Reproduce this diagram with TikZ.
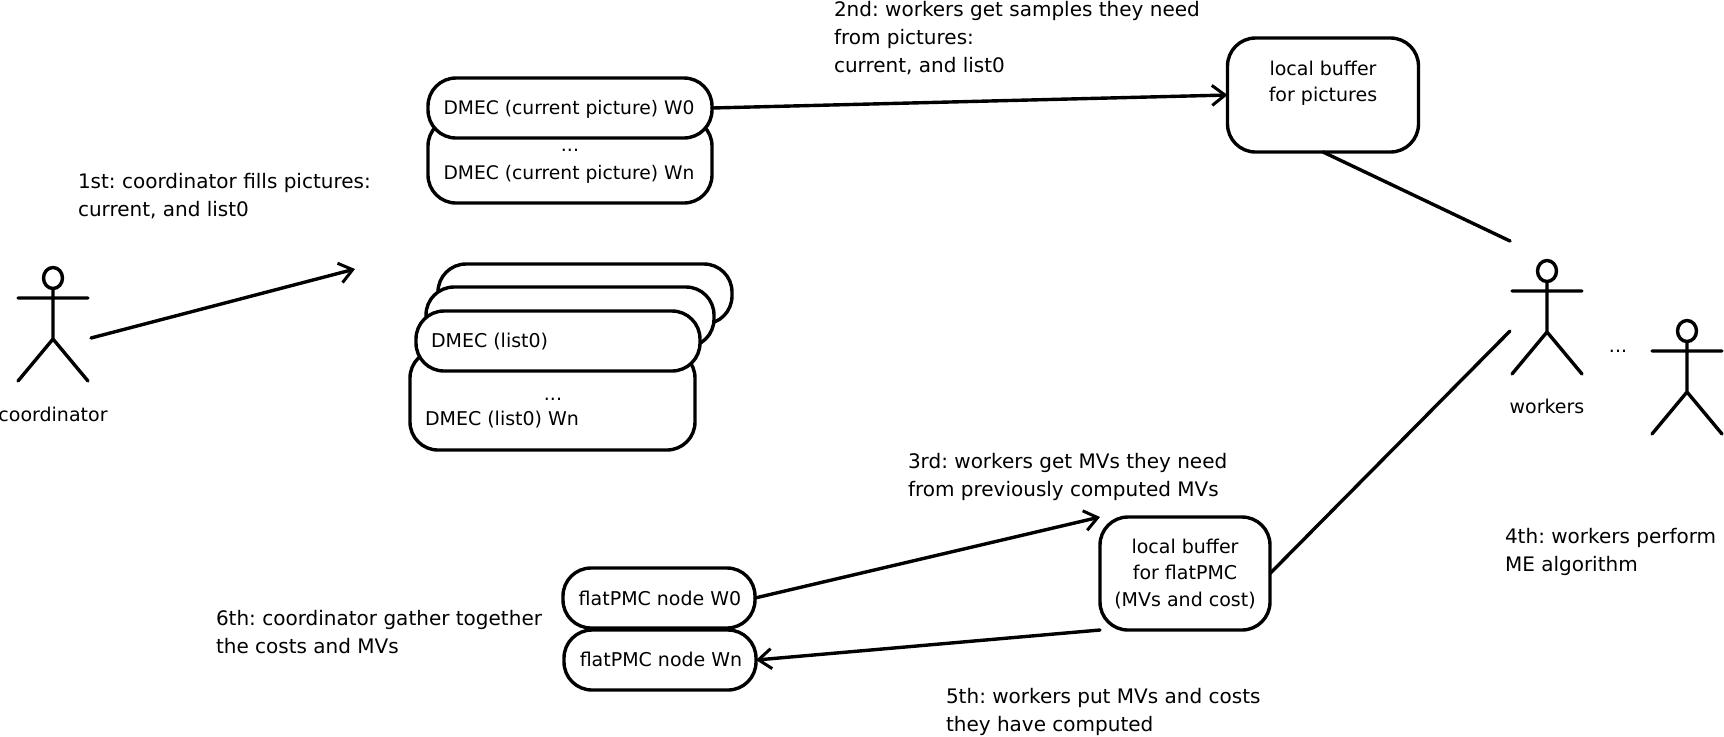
\documentclass[tikz,border=0pt]{standalone}
\usepackage{fontspec}
\setmainfont{DejaVu Sans}
\usetikzlibrary{arrows.meta}
\frenchspacing
\tikzset{
  x=0.5pt,y=-0.5pt,
  every node/.style={font=\fontsize{9.5}{13.2}\selectfont},
  line/.style={line width=1.7pt,line cap=round,line join=round},
  conn/.style={line,-{Straight Barb[length=6.5pt,width=10pt,line width=1.5pt]}},
  plainconn/.style={line},
  rbox/.style={draw,fill=white,line width=1.7pt,rounded corners=14pt,inner sep=0pt,outer sep=0pt,align=center},
  lbl/.style={inner sep=0pt,outer sep=0pt,align=left,anchor=west,font=\fontsize{10}{14}\selectfont},
  boxlbl/.style={inner sep=0pt,outer sep=0pt,align=left,anchor=west},
  ctr/.style={inner sep=0pt,outer sep=0pt,align=center},
  narrow/.style={inner sep=0pt,outer sep=0pt,align=center,font=\fontsize{9.35}{13.2}\selectfont},
  actor/.pic={
    \draw[line width=1.7pt] (0,0) ellipse[x radius=9.5,y radius=10.5];
    \draw[line] (0,10.5) -- (0,61) (-35,20) -- (35,20) (-35,103) -- (0,61) -- (35,103);
  }
}
\begin{document}
\begin{tikzpicture}
\useasboundingbox (0,0) rectangle (1724,736);
% actors
\pic at (53,278) {actor};
\pic at (1547,271) {actor};
\pic at (1687,331) {actor};
\node[ctr] (coordlbl) at (53,414) {coordinator};
\node[ctr] (worklbl) at (1547,406) {workers};
\node[ctr] (wdots) at (1618,351) {...};
% current picture boxes
\node[rbox,minimum width=142pt,minimum height=42.5pt] (curn) at (570,160.5) {};
\node[rbox,minimum width=142pt,minimum height=30pt] (cur0) at (570,108) {};
\node[narrow] (cur0txt) at (569,109) {DMEC (current picture) W0};
\node[ctr] (curdots) at (570,150) {...};
\node[narrow] (curtxt) at (569,174) {DMEC (current picture) Wn};
% list0 boxes
\node[rbox,minimum width=142.5pt,minimum height=50pt] (listn) at (552.5,400) {};
\node[rbox,minimum width=147pt,minimum height=30pt] (list2) at (585,294) {};
\node[rbox,minimum width=144pt,minimum height=30pt] (list1) at (570,317) {};
\node[rbox,minimum width=142pt,minimum height=30pt] (list0) at (558,341) {};
\node[boxlbl] (listtxt) at (431,342) {DMEC (list0)};
\node[ctr] (listdots) at (553,399) {...};
\node[boxlbl] (listntxt) at (425,420) {DMEC (list0) Wn};
% buffers
\node[rbox,minimum width=95.5pt,minimum height=57pt] (picbuf) at (1323,95) {};
\node[ctr] (pictxt) at (1323,83) {local buffer\\for pictures};
\node[rbox,minimum width=85pt,minimum height=56.5pt] (flatbuf) at (1185,573.5) {};
\node[ctr] (flattxt) at (1185,574) {local buffer\\for flatPMC\\(MVs and cost)};
% flat nodes
\node[rbox,minimum width=96pt,minimum height=30pt] (flat0) at (659,598) {};
\node[ctr] (flat0txt) at (660,598) {flatPMC node W0};
\node[rbox,minimum width=96pt,minimum height=30pt] (flatn) at (660,660) {};
\node[ctr] (flatntxt) at (661,659) {flatPMC node Wn};
% free ends
\coordinate (cstart) at (91,338);
\coordinate (cend) at (355,269);
\coordinate (wa) at (1510,241);
\coordinate (wb) at (1510,331);
% connectors
\draw[conn] (cstart) -- (cend);
\draw[conn] (cur0.east) -- (picbuf.west);
\draw[plainconn] (picbuf.south) -- (wa);
\draw[plainconn] (flatbuf.east) -- (wb);
\draw[conn] (flat0.east) -- (flatbuf.north west);
\draw[conn] (flatbuf.south west) -- (flatn.east);
% labels
\node[lbl] (l1) at (78,196) {1st: coordinator fills pictures:\\current, and list0};
\node[lbl] (l2) at (834,38.5) {2nd: workers get samples they need\\from pictures:\\current, and list0};
\node[lbl] (l3) at (908,477) {3rd: workers get MVs they need\\from previously computed MVs};
\node[lbl] (l4) at (1505,551.5) {4th: workers perform\\ME algorithm};
\node[lbl] (l5) at (946,711.5) {5th: workers put MVs and costs\\they have computed};
\node[lbl] (l6) at (216,632) {6th: coordinator gather together\\the costs and MVs};
\end{tikzpicture}
\end{document}
